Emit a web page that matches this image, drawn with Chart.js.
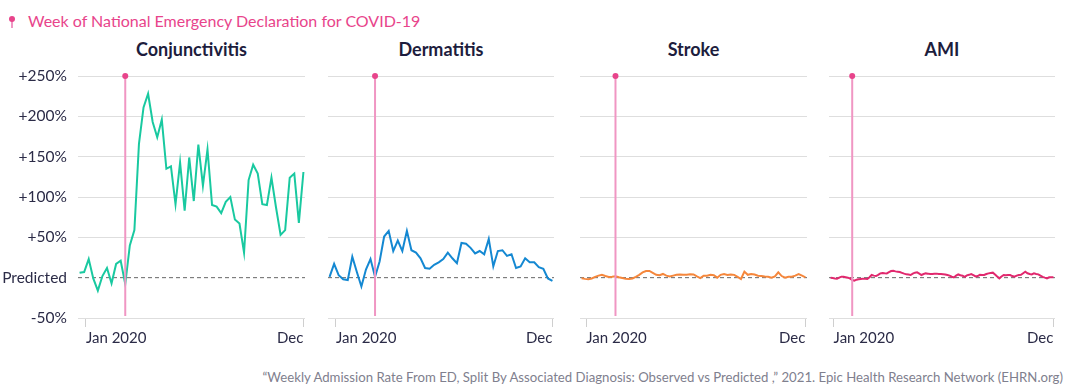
<!DOCTYPE html>
<html>
<head>
<meta charset="utf-8">
<script src="https://cdn.jsdelivr.net/npm/chart.js@4.4.1/dist/chart.umd.min.js"></script>
<style>
  body { margin: 0; background: #fff; font-family: Lato, sans-serif; }
  #wrap { position: relative; width: 1070px; height: 392px; overflow: hidden; }
  canvas { position: absolute; top: 55px; }
  .title { position: absolute; top: 38px; height: 22px; line-height: 22px; font-size: 18px; font-weight: 700; color: #1d1d3d; text-align: center; }
  .legend { position: absolute; left: 28px; top: 11px; font-size: 16px; line-height: 20px; color: #e8448b; }
  .pin-dot { position: absolute; left: 9px; top: 16px; width: 6px; height: 6px; border-radius: 3px; background: #e8448b; }
  .pin-stem { position: absolute; left: 11px; top: 19px; width: 2px; height: 9px; background: #f096c3; }
  .source { position: absolute; right: 7px; top: 369px; font-size: 13.2px; line-height: 16px; color: #80808e; }
</style>
</head>
<body>
<div id="wrap">
  <div class="pin-stem"></div>
  <div class="pin-dot"></div>
  <div class="legend">Week of National Emergency Declaration for COVID-19</div>

  <div class="title" style="left:78px;width:227px">Conjunctivitis</div>
  <div class="title" style="left:328px;width:226px">Dermatitis</div>
  <div class="title" style="left:580px;width:227px">Stroke</div>
  <div class="title" style="left:829px;width:226px">AMI</div>

  <canvas id="c1" width="307" height="293" style="left:0px"></canvas>
  <canvas id="c2" width="228" height="293" style="left:328px"></canvas>
  <canvas id="c3" width="229" height="293" style="left:580px"></canvas>
  <canvas id="c4" width="228" height="293" style="left:829px"></canvas>

  <div class="source">“Weekly Admission Rate From ED, Split By Associated Diagnosis: Observed vs Predicted ,” 2021. Epic Health Research Network (EHRN.org)</div>
</div>

<script>
// weekly % difference, observed vs predicted
const conjunctivitis = [6, 7, 23, -1, -16, 2, 12, -7, 17, 21, -8, 40, 59, 166, 211, 228, 193, 174, 196, 135,
    138, 91, 143, 83, 149, 95, 165, 114, 159, 90, 88, 80, 94, 100, 72, 67, 31, 121, 140, 129,
    91, 90, 124, 87, 53, 59, 124, 129, 68, 131];
const dermatitis = [1, 17, 3, -2, -3, 26, 7, -11, 10, 23, 1, 20, 51, 58, 33, 46, 33, 58, 34, 31,
    24, 12, 11, 16, 19, 23, 31, 24, 18, 43, 42, 37, 30, 33, 29, 48, 14, 33, 34, 27,
    29, 12, 14, 24, 19, 19, 13, 11, -1, -4];
const stroke = [-0.8, -1.5, -2, -1, 1, 2.5, 3.5, 2, 0.8, 1.2, 1.7, 0.5, -0.5, -1.5, -1.7, -1, 1, 3.5, 6.5, 8.3,
    8.3, 6, 3.5, 3, 4.6, 2.5, 1.5, 2.5, 3.5, 4, 3.5, 3.5, 4.2, 4, 1.5, -0.5, 2.5, 2.5, 3.5, 3,
    0, 3.5, 4.5, 3.3, 4, 3.5, 1, -1.7, 7.5, 3.5, 4.5, 4, 2.5, 2, 1.5, 1.2, 0, 1.5, 6.6, 2,
    0, 1.2, 1.2, 2.5, 4.5, 2.5, 0.4];
const ami = [0, -0.5, -1, -1.2, 0, 1.2, 1, 0.5, 0, -1, -2.9, -3.7, -2.5, -2, -1.6, -1.2, -1.5, -1.6, 0.5, 3.3,
    2.5, 2, 3.5, 5.3, 5.8, 5.5, 5.3, 6.8, 8.2, 8.5, 7.8, 7.4, 7, 6, 5, 4.1, 3.8, 3.3, 5, 6.2,
    6.6, 5, 3.3, 4.5, 5.3, 5, 4.6, 4.5, 4.8, 5, 4.5, 4.4, 4.2, 4, 3.3, 2.5, 1.2, 0.3, 2.5, 4,
    3, 2.5, 1, 2.9, 3.5, 4.5, 3, 1.5, 2, 3.5, 3.3, 3.3, 4.5, 5.3, 5.8, 6.2, 4, 1.5, -0.8, 1.5,
    3.3, 3, 3.3, 3.3, 2, 1.2, 2.5, 3.3, 3.5, 5.5, 7.3, 5.5, 4.5, 4, 5.3, 4.5, 4.1, 2.5, 1, 0,
    -0.8, 0.5, 0.5, 0.4];

const xTickLabels = ['Jan 2020', 'Dec'];
const janTickIndex = 1.4;     // first week is just before Jan 1
const emergencyIndex = 10;    // week of the national emergency declaration

const gridColor = '#dedede';
const textColor = '#2b2b47';

// pink vertical marker with dot on top
const emergencyLine = {
    id: 'emergencyLine',
    afterDatasetsDraw(chart, args, opts) {
        const x = chart.scales.x.getPixelForValue(opts.index);
        const area = chart.chartArea;
        const ctx = chart.ctx;
        ctx.save();
        ctx.strokeStyle = '#f096c3';
        ctx.lineWidth = 2;
        ctx.beginPath();
        ctx.moveTo(x, area.top);
        ctx.lineTo(x, area.bottom - 2);
        ctx.stroke();
        ctx.fillStyle = '#e8448b';
        ctx.beginPath();
        ctx.arc(x, area.top, 3, 0, Math.PI * 2);
        ctx.fill();
        ctx.restore();
    }
};

function makePanel(id, values, color, showY) {
    const last = values.length - 1;
    const pad = last * 0.007;
    new Chart(document.getElementById(id), {
        type: 'line',
        data: {
            datasets: [{
                data: values.map((v, i) => ({ x: i, y: v })),
                borderColor: color,
                borderWidth: 2,
                pointRadius: 0,
                tension: 0,
                order: 1
            }, {
                // "Predicted" baseline
                data: [{ x: -pad, y: 0 }, { x: last + pad, y: 0 }],
                borderColor: '#666',
                borderWidth: 1,
                borderDash: [4, 3],
                pointRadius: 0,
                order: 2
            }]
        },
        plugins: [emergencyLine],
        options: {
            responsive: false,
            animation: false,
            devicePixelRatio: 1,
            layout: { padding: { top: 21, right: 2, left: 0, bottom: 0 } },
            plugins: {
                legend: { display: false },
                tooltip: { enabled: false },
                emergencyLine: { index: emergencyIndex }
            },
            scales: {
                x: {
                    type: 'linear',
                    min: -pad,
                    max: last + pad,
                    afterBuildTicks: (scale) => {
                        scale.ticks = [{ value: janTickIndex }, { value: last }];
                    },
                    afterFit: (scale) => { scale.height = 30; },
                    grid: { drawOnChartArea: false, drawTicks: true, tickLength: 9, color: '#cfcfcf' },
                    border: { display: false },
                    ticks: {
                        autoSkip: false,
                        maxRotation: 0,
                        align: 'inner',
                        padding: 2,
                        color: textColor,
                        font: { family: 'Lato', size: 15 },
                        callback: (v, i) => xTickLabels[i]
                    }
                },
                y: {
                    min: -50,
                    max: 250,
                    afterFit: (scale) => { scale.width = showY ? 78 : 0; },
                    grid: {
                        drawTicks: false,
                        color: (ctx) => ctx.tick && ctx.tick.value === 0 ? 'rgba(0,0,0,0)' : gridColor
                    },
                    border: { display: false },
                    ticks: {
                        display: showY,
                        stepSize: 50,
                        padding: 11,
                        color: textColor,
                        font: { family: 'Lato', size: 15.5 },
                        callback: (v) => v === 0 ? 'Predicted' : (v > 0 ? '+' : '') + v + '%'
                    }
                }
            }
        }
    });
}

makePanel('c1', conjunctivitis, '#19c9a0', true);
makePanel('c2', dermatitis, '#1488d2', false);
makePanel('c3', stroke, '#f5873c', false);
makePanel('c4', ami, '#e1286e', false);
</script>
</body>
</html>
